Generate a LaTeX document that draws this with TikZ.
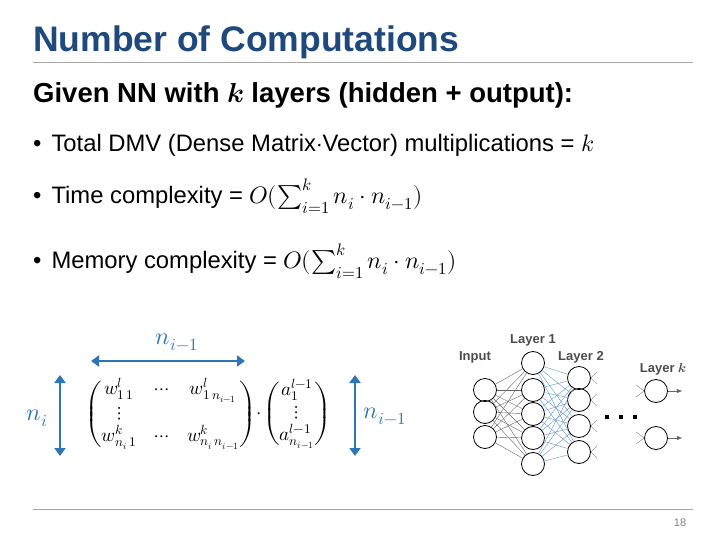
\documentclass[tikz,border=0pt]{standalone}
\usepackage{amsmath}
\usepackage{unicode-math}
\setmainfont{Liberation Sans}
\setmathfont{Latin Modern Math}
\usetikzlibrary{arrows.meta}
\definecolor{ttl}{RGB}{31,73,125}
\definecolor{arr}{RGB}{46,117,182}
\definecolor{lb}{RGB}{100,150,205}
\tikzset{x=1pt,y=-1pt,
 neuron/.style={circle,draw,line width=0.8pt,minimum size=23pt,inner sep=0pt},
 dimarr/.style={arr,line width=2.2pt,{Triangle[length=8pt,width=11pt]}-{Triangle[length=8pt,width=11pt]}},
 txt/.style={anchor=west,inner sep=0pt,font=\fontsize{23.8}{28}\selectfont},
 lay/.style={font=\bfseries\fontsize{13}{15}\selectfont,text=black!70,inner sep=0pt}}
\begin{document}
\begin{tikzpicture}
\useasboundingbox (0,0) rectangle (720,540);
\node[anchor=west,inner sep=0pt,text=ttl,font=\bfseries\fontsize{35.5}{40}\selectfont] (title) at (33,42) {Number of Computations};
\draw[gray!70,line width=0.6pt] (33,62) coordinate (l1) -- (693,62) coordinate (l2);
\draw[gray!70,line width=0.6pt] (33,509) coordinate (l3) -- (693,509) coordinate (l4);
\node[text=gray,font=\fontsize{11}{13}\selectfont] (pg) at (680,523) {18};
\node[anchor=west,inner sep=0pt,font=\bfseries\fontsize{27.5}{32}\selectfont] (h) at (33,95) {Given NN with $\symbfit{k}$ layers (hidden + output):};
\node[txt] (b1) at (33,145) {•\hspace{10pt}Total DMV (Dense Matrix$\cdot$Vector) multiplications = $k$};
\node[txt] (b2) at (33,196) {•\hspace{10pt}Time complexity = $O(\sum_{i=1}^{k} n_i\cdot n_{i-1})$};
\node[txt] (b3) at (33,261) {•\hspace{10pt}Memory complexity = $O(\sum_{i=1}^{k} n_i\cdot n_{i-1})$};
% matrix
\node[inner sep=0pt] (mat) at (208,414) {\fontsize{19}{22}\selectfont\setlength\arraycolsep{9pt}$\begin{pmatrix} w^{l}_{1\,1} & \cdots & w^{l}_{1\,n_{i-1}}\\ \vdots & & \\ w^{k}_{n_i\,1} & \cdots & w^{k}_{n_i\,n_{i-1}}\end{pmatrix}\!\cdot\!\setlength\arraycolsep{4pt}\begin{pmatrix} a^{l-1}_{1}\\ \vdots\\ a^{l-1}_{n_{i-1}}\end{pmatrix}$};
\coordinate (a1) at (60,375); \coordinate (a2) at (60,456);
\draw[dimarr] (a1) -- (a2);
\coordinate (a3) at (91,361); \coordinate (a4) at (245,361);
\draw[dimarr] (a3) -- (a4);
\coordinate (a5) at (355,375); \coordinate (a6) at (355,456);
\draw[dimarr] (a5) -- (a6);
\node[text=arr,font=\fontsize{24}{28}\selectfont] (ni) at (37,418) {$n_i$};
\node[text=arr,font=\fontsize{24}{28}\selectfont] (nt) at (177,342) {$n_{i-1}$};
\node[text=arr,font=\fontsize{24}{28}\selectfont] (nr) at (385,416) {$n_{i-1}$};
% network
\foreach \y [count=\i] in {390,412,437} \node[neuron] (I\i) at (485,\y) {};
\foreach \y [count=\i] in {363,390,414,438,464} \node[neuron] (A\i) at (533,\y) {};
\foreach \y [count=\i] in {378,400,426,452} \node[neuron] (B\i) at (579,\y) {};
\node[neuron] (K1) at (656,391) {};
\node[neuron] (K2) at (656,438) {};
\foreach \i in {1,2,3} \foreach \j in {1,...,5} \draw[gray!80!black,line width=0.4pt] (I\i) -- (A\j);
\foreach \i in {1,...,5} \foreach \j in {1,...,4} \draw[lb,line width=0.4pt] (A\i) -- (B\j);
\foreach \j in {1,...,4} {\draw[gray,line width=0.4pt] (B\j.east) -- ++(6,-6); \draw[gray,line width=0.4pt] (B\j.east) -- ++(6,6);}
\foreach \j in {1,2} {\draw[gray,line width=0.4pt] (K\j.west) -- ++(-8,-6); \draw[gray,line width=0.4pt] (K\j.west) -- ++(-8,6);
 \draw[gray!80!black,line width=0.6pt,-{Triangle[length=5pt,width=4pt]}] (K\j.east) -- ++(14,0);}
\foreach \x in {607,621,635} \fill (\x-2,415) rectangle (\x+2,419);
\node[lay] (tin) at (475,357) {Input};
\node[lay] (t1) at (533,340) {Layer 1};
\node[lay] (t2) at (581,357) {Layer 2};
\node[lay] (tk) at (663,369) {Layer $\symbfit{k}$};
\end{tikzpicture}
\end{document}
